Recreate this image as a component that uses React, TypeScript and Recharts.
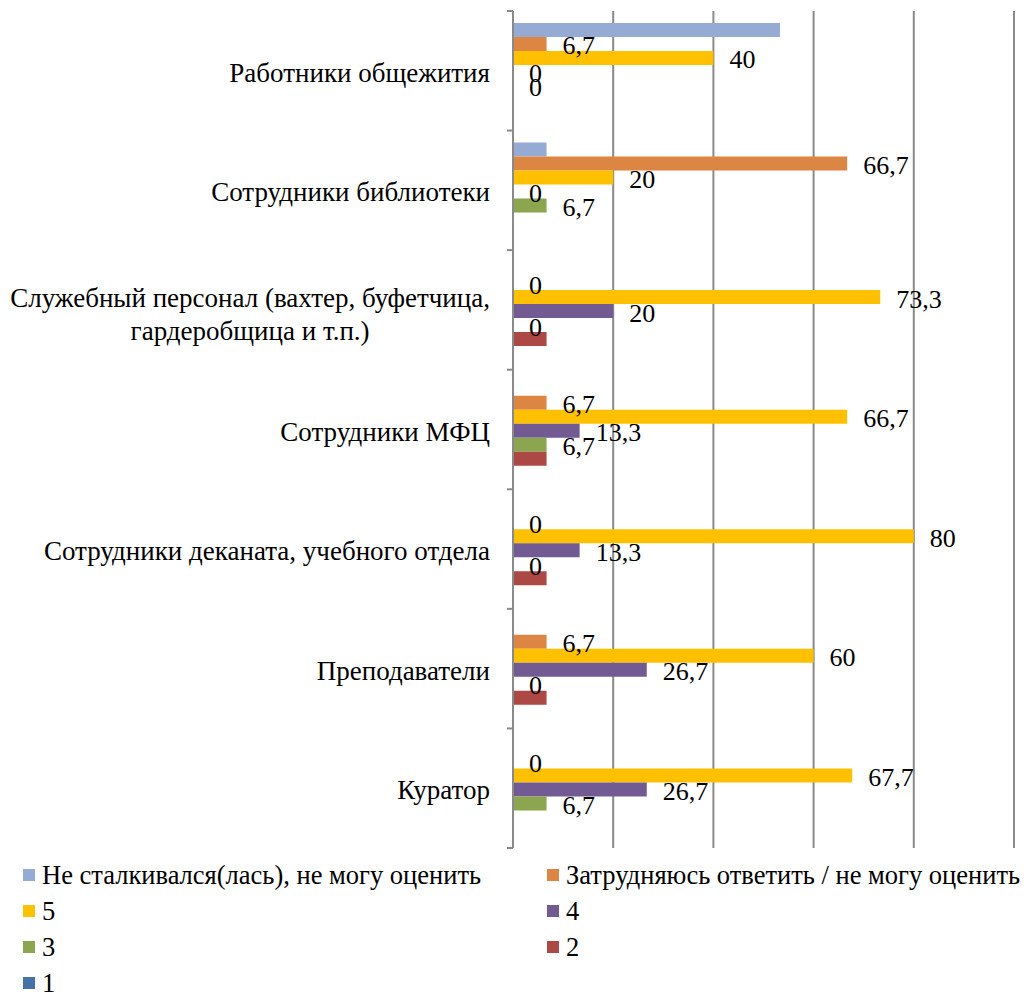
import React from "react";
import {
  BarChart,
  Bar,
  XAxis,
  YAxis,
  CartesianGrid,
  Legend,
  LabelList,
} from "recharts";

// категории сверху вниз
const categories = [
  "Работники общежития",
  "Сотрудники библиотеки",
  "Служебный персонал (вахтер, буфетчица,\nгардеробщица и т.п.)",
  "Сотрудники МФЦ",
  "Сотрудники деканата, учебного отдела",
  "Преподаватели",
  "Куратор",
];

const notEncountered = [53.3, 6.7, null, null, null, null, null];
const hardToSay = [6.7, 66.7, 0, 6.7, 0, 6.7, 0];
const score5 = [40, 20, 73.3, 66.7, 80, 60, 67.7];
const score4 = [0, 0, 20, 13.3, 13.3, 26.7, 26.7];
const score3 = [0, 6.7, 0, 6.7, 0, 0, 6.7];
const score2 = [null, null, 6.7, 6.7, 6.7, 6.7, null];
const score1 = [null, null, null, null, null, null, null];

const seriesNames = [
  "Не сталкивался(лась), не могу оценить",
  "Затрудняюсь ответить / не могу оценить",
  "5",
  "4",
  "3",
  "2",
  "1",
];
const seriesColors = [
  "#95abd4",
  "#dd8543",
  "#ffc000",
  "#725a93",
  "#8ba64f",
  "#ad4944",
  "#4672a8",
];
// у каких рядов видны подписи данных
const seriesLabelled = [false, true, true, true, true, false, false];

const xTicks = [0, 20, 40, 60, 80, 100];

const seriesValues = [notEncountered, hardToSay, score5, score4, score3, score2, score1];

const data = categories.map((name, i) => {
  const row: Record<string, string | number | null> = { name };
  seriesValues.forEach((vals, s) => {
    row[`s${s}`] = vals[i];
  });
  return row;
});

const FONT = '"Liberation Serif", "Times New Roman", serif';
const CHART_W = 1014;
const CHART_H = 984;
const AXIS_W = 505;
const LEGEND_H = 144;
const GRID = "#8a8a8a";

let measureCtx: CanvasRenderingContext2D | null = null;
function textWidth(text: string, size: number) {
  if (!measureCtx) {
    measureCtx = document.createElement("canvas").getContext("2d");
  }
  if (!measureCtx) return text.length * size * 0.5;
  measureCtx.font = `${size}px ${FONT}`;
  return measureCtx.measureText(text).width;
}

function CategoryTick(props: any) {
  const { y, payload, index } = props;
  const bandHalf =
    payload && payload.offset ? payload.offset : (CHART_H - 3 - LEGEND_H) / categories.length / 2;
  const lines = String(payload.value).split("\n");
  const size = 27;
  const lineH = 33;
  const right = AXIS_W - 23;
  const widths = lines.map((l) => textWidth(l, size));
  const maxW = Math.max(...widths);
  const cx = right - maxW / 2;
  const shift = lines.length > 1 ? 5 : 2;
  return (
    <g>
      <line x1={AXIS_W - 6} x2={AXIS_W} y1={y - bandHalf} y2={y - bandHalf} stroke={GRID} strokeWidth={2} />
      {index === categories.length - 1 && (
        <line x1={AXIS_W - 6} x2={AXIS_W} y1={y + bandHalf} y2={y + bandHalf} stroke={GRID} strokeWidth={2} />
      )}
      {lines.map((line, i) => (
        <text
          key={i}
          x={lines.length > 1 ? cx : right}
          y={y + shift + (i - (lines.length - 1) / 2) * lineH}
          textAnchor={lines.length > 1 ? "middle" : "end"}
          dominantBaseline="central"
          fontFamily={FONT}
          fontSize={size}
          fill="#000"
        >
          {line}
        </text>
      ))}
    </g>
  );
}

function ValueLabel(props: any) {
  const { x, y, width, height, value } = props;
  if (value === null || value === undefined) return null;
  const w = value === 0 ? 0 : width;
  return (
    <text
      x={x + w + 16}
      y={y + height / 2 + 2}
      textAnchor="start"
      dominantBaseline="central"
      fontFamily={FONT}
      fontSize={26}
      fill="#000"
    >
      {String(value).replace(".", ",")}
    </text>
  );
}

function LegendBox(props: any) {
  const items = [...(props.payload || [])].sort(
    (a: any, b: any) => seriesNames.indexOf(a.value) - seriesNames.indexOf(b.value)
  );
  return (
    <div
      style={{
        height: LEGEND_H,
        boxSizing: "border-box",
        paddingTop: 9,
        display: "grid",
        gridTemplateColumns: "524px 490px",
        gridAutoRows: "36px",
        fontFamily: FONT,
        fontSize: 26.5,
        lineHeight: "30px",
        color: "#000",
      }}
    >
      {items.map((item: any) => (
        <div
          key={item.value}
          style={{ display: "flex", alignItems: "center", paddingLeft: 15, whiteSpace: "nowrap" }}
        >
          <span
            style={{
              display: "inline-block",
              width: 12,
              height: 12,
              background: item.color,
              marginRight: 7,
              flex: "none",
            }}
          />
          <span>{item.value}</span>
        </div>
      ))}
    </div>
  );
}

// нулевые столбики получают ничтожную ширину, чтобы подпись "0" всё же рисовалась
const tinyForZero = (value: any) => (value === 0 ? 0.01 : 0);

export default function App() {
  return (
    <div style={{ width: CHART_W, height: CHART_H }}>
      <BarChart
        width={CHART_W}
        height={CHART_H}
        data={data}
        layout="vertical"
        margin={{ top: 3, right: 8, bottom: 0, left: 0 }}
        barCategoryGap="10%"
        barGap={0}
      >
        <CartesianGrid horizontal={false} stroke={GRID} strokeWidth={2} />
        <XAxis type="number" domain={[0, 100]} ticks={xTicks} hide />
        <YAxis
          type="category"
          dataKey="name"
          width={AXIS_W}
          axisLine={{ stroke: GRID, strokeWidth: 2 }}
          tickLine={false}
          tick={<CategoryTick />}
          interval={0}
        />
        {seriesNames.map((name, s) => (
          <Bar
            key={name}
            dataKey={`s${s}`}
            name={name}
            fill={seriesColors[s]}
            minPointSize={tinyForZero}
            isAnimationActive={false}
          >
            {seriesLabelled[s] && <LabelList dataKey={`s${s}`} content={<ValueLabel />} />}
          </Bar>
        ))}
        <Legend
          verticalAlign="bottom"
          content={<LegendBox />}
          wrapperStyle={{ left: 0, width: CHART_W, height: LEGEND_H }}
        />
      </BarChart>
    </div>
  );
}
